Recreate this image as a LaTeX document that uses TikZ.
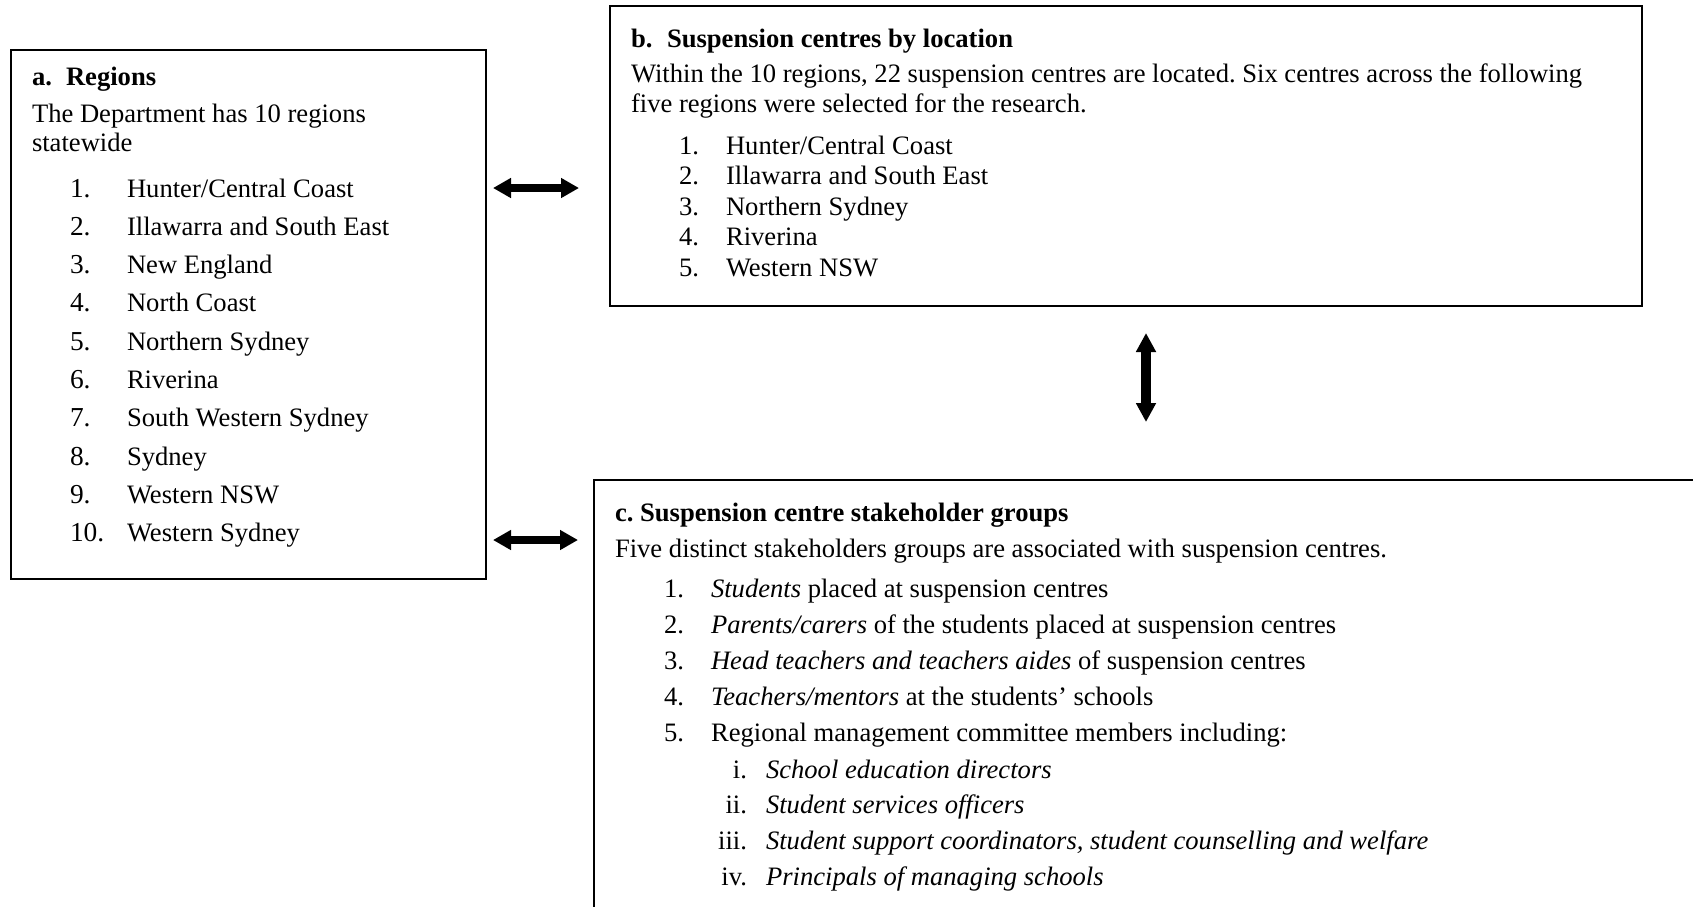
\documentclass[tikz,border=0pt]{standalone}
\usepackage{fontspec}
\setmainfont{Liberation Serif}
\usetikzlibrary{arrows.meta}
\frenchspacing
\tikzset{
  box/.style={draw, line width=2.4pt, inner sep=0pt, outer sep=0pt, anchor=north west},
  txt/.style={inner sep=0pt, outer sep=0pt, anchor=base west, font=\fontsize{26.6pt}{32pt}\selectfont},
  anum/.style={txt, font=\fontsize{27.4pt}{32pt}\selectfont},
  rnum/.style={txt, anchor=base east},
  hd/.style={txt, font=\fontsize{26.6pt}{32pt}\selectfont\bfseries},
  dblarrow/.style={line width=8.5pt, {Triangle[length=18pt,width=19pt]}-{Triangle[length=18pt,width=19pt]}},
  vdblarrow/.style={line width=10pt, {Triangle[length=19pt,width=19pt]}-{Triangle[length=19pt,width=19pt]}},
}
\begin{document}
\begin{tikzpicture}[x=1pt,y=-1pt]
\useasboundingbox (0,0) rectangle (1693,906);
\clip (0,0) rectangle (1693,906);
\fill[white] (0,0) rectangle (1693,906);

% boxes
\node[box, minimum width=475pt, minimum height=529pt] (boxa) at (11,50) {};
\node[box, minimum width=1032pt, minimum height=300pt] (boxb) at (610,6) {};
\node[box, minimum width=1200pt, minimum height=500pt] (boxc) at (594,480) {};

% box a
\node[hd] (ahdn) at (32,85) {a.};
\node[hd] (ahdt) at (66,85) {Regions};
\node[txt] (al1) at (32,122) {The Department has 10 regions};
\node[txt] (al2) at (32,151) {statewide};
\foreach \i/\t in {1/Hunter\slash Central Coast, 2/Illawarra and South East, 3/New England, 4/North Coast, 5/Northern Sydney, 6/Riverina, 7/South Western Sydney, 8/Sydney, 9/Western NSW, 10/Western Sydney}{
  \node[anum] (an\i) at (70,{197+38.33*(\i-1)}) {\i.};
  \node[txt] (at\i) at (127,{197+38.33*(\i-1)}) {\t};
}

% box b
\node[hd] (bhdn) at (631,47) {b.};
\node[hd] (bhdt) at (667,47) {Suspension centres by location};
\node[txt] (bl1) at (631,82) {Within the 10 regions, 22 suspension centres are located. Six centres across the following};
\node[txt] (bl2) at (631,112) {five regions were selected for the research.};
\foreach \i/\t in {1/Hunter\slash Central Coast, 2/Illawarra and South East, 3/Northern Sydney, 4/Riverina, 5/Western NSW}{
  \node[txt] (bn\i) at (679,{154+30.5*(\i-1)}) {\i.};
  \node[txt] (bt\i) at (726,{154+30.5*(\i-1)}) {\t};
}

% box c
\node[hd] (chd) at (615,521) {c. Suspension centre stakeholder groups};
\node[txt] (cl1) at (615,557) {Five distinct stakeholders groups are associated with suspension centres.};
\node[txt] (cn1) at (664,597) {1.};
\node[txt] (ct1) at (711,597) {\textit{Students} placed at suspension centres};
\node[txt] (cn2) at (664,633.2) {2.};
\node[txt] (ct2) at (711,633.2) {\textit{Parents/carers} of the students placed at suspension centres};
\node[txt] (cn3) at (664,669.4) {3.};
\node[txt] (ct3) at (711,669.4) {\textit{Head teachers and teachers aides} of suspension centres};
\node[txt] (cn4) at (664,705.6) {4.};
\node[txt] (ct4) at (711,705.6) {\textit{Teachers/mentors} at the students’ schools};
\node[txt] (cn5) at (664,741.8) {5.};
\node[txt] (ct5) at (711,741.8) {Regional management committee members including:};
\node[rnum] (sn1) at (747,778) {i.};
\node[txt] (st1) at (766,778) {\textit{School education directors}};
\node[rnum] (sn2) at (747,813.7) {ii.};
\node[txt] (st2) at (766,813.7) {\textit{Student services officers}};
\node[rnum] (sn3) at (747,849.4) {iii.};
\node[txt] (st3) at (766,849.4) {\textit{Student support coordinators, student counselling and welfare}};
\node[rnum] (sn4) at (747,885.1) {iv.};
\node[txt] (st4) at (766,885.1) {\textit{Principals of managing schools}};

% connectors
\draw[dblarrow] ([xshift=7pt,yshift=-138pt]boxa.north east) -- ([xshift=-31pt,yshift=-182pt]boxb.north west);
\draw[dblarrow] ([xshift=7pt,yshift=-490pt]boxa.north east) -- ([xshift=-16pt,yshift=-60pt]boxc.north west);
\draw[vdblarrow] ([xshift=536pt,yshift=-27pt]boxb.south west) -- ([xshift=552pt,yshift=58pt]boxc.north west);
\end{tikzpicture}
\end{document}
